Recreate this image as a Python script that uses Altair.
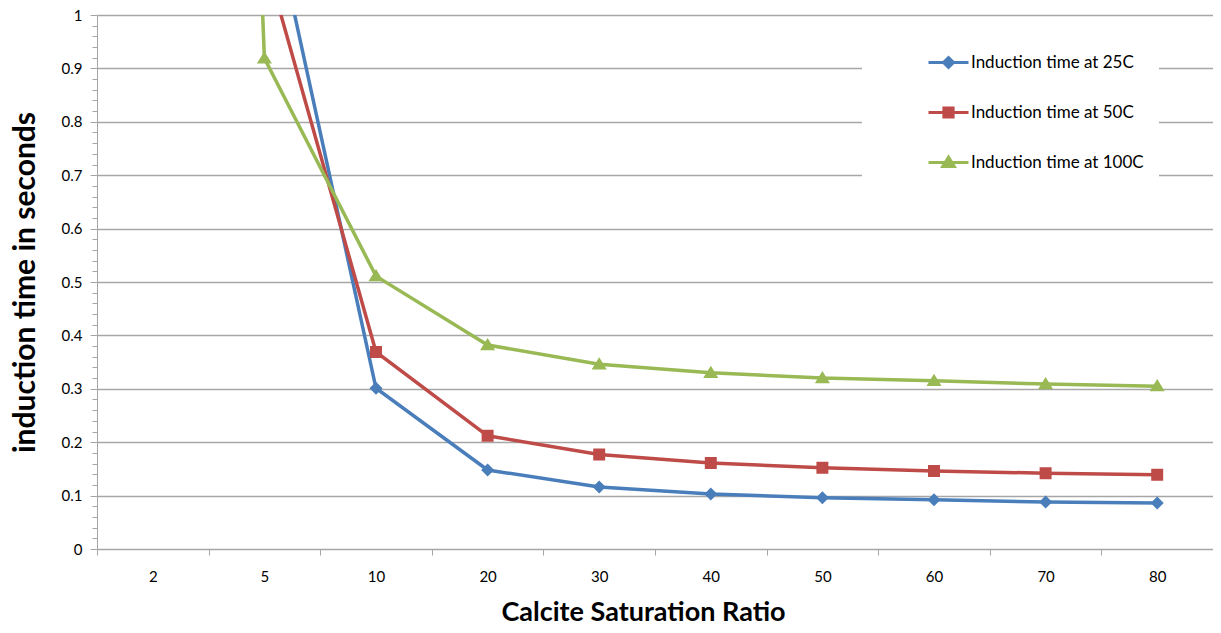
import altair as alt
import pandas as pd

categories = ["2", "5", "10", "20", "30", "40", "50", "60", "70", "80"]
series_names = ["Induction time at 25C", "Induction time at 50C", "Induction time at 100C"]
t25 = [9.0, 1.26, 0.301, 0.148, 0.116, 0.103, 0.096, 0.092, 0.088, 0.086]
t50 = [7.5, 1.11, 0.369, 0.212, 0.177, 0.161, 0.152, 0.146, 0.142, 0.139]
t100 = [6.2, 0.919, 0.511, 0.382, 0.346, 0.330, 0.320, 0.315, 0.309, 0.305]
colors = ["#4A7EBB", "#BE4B48", "#98B954"]
# marker outlines (diamond, square, triangle) joined to a short line stub for the legend key
marker_paths = [
    "M-1,0L1,0M0,-0.25L0.25,0L0,0.25L-0.25,0Z",
    "M-1,0L1,0M-0.23,-0.23L0.23,-0.23L0.23,0.23L-0.23,0.23Z",
    "M-1,0L1,0M0,-0.27L0.29,0.2L-0.29,0.2Z",
]
y_ticks = [round(i * 0.02, 2) for i in range(51)]

rows = []
for name, vals in zip(series_names, [t25, t50, t100]):
    for c, v in zip(categories, vals):
        rows.append({"cat": c, "v": v, "series": name})
df = pd.DataFrame(rows)

FONT = "Lato"
GRAY = "#A6A6A6"
major = "round(datum.value * 50) % 5 === 0"

x_enc = alt.X(
    "cat:O",
    sort=categories,
    bandPosition=0.5,
    scale=alt.Scale(type="band", paddingInner=0, paddingOuter=0),
    axis=alt.Axis(
        title="Calcite Saturation Ratio",
        labelAngle=0,
        tickBand="extent",
        tickSize=6,
        tickColor=GRAY,
        domainColor=GRAY,
        labelFont=FONT,
        labelFontSize=15,
        labelColor="#000000",
        labelPadding=14,
        titleFont=FONT,
        titleFontSize=27,
        titleFontWeight="bold",
        titleColor="#000000",
        titleX=546,
        titleY=71,
        titleBaseline="alphabetic",
        grid=False,
    ),
)
y_enc = alt.Y(
    "v:Q",
    scale=alt.Scale(domain=[0, 1]),
    axis=alt.Axis(
        title="induction time in seconds",
        values=y_ticks,
        tickSize={"condition": {"test": major, "value": 7}, "value": 5},
        tickColor=GRAY,
        domainColor=GRAY,
        grid=True,
        gridColor=GRAY,
        gridWidth=1.3,
        gridOpacity={"condition": {"test": major, "value": 1}, "value": 0},
        labelExpr=f"{major} ? format(datum.value, '.1~f') : ''",
        labelFont=FONT,
        labelFontSize=15,
        labelColor="#000000",
        labelPadding=8,
        titleFont=FONT,
        titleFontSize=30,
        titleFontWeight="bold",
        titleColor="#000000",
        titleX=-63,
        titleBaseline="alphabetic",
    ),
)

lines = alt.Chart(df).mark_line(strokeWidth=3.5, clip=True).encode(
    x=x_enc,
    y=y_enc,
    color=alt.Color(
        "series:N",
        scale=alt.Scale(domain=series_names, range=colors),
        legend=alt.Legend(
            title=None,
            orient="none",
            legendX=765,
            legendY=11,
            fillColor="#FFFFFF",
            padding=15,
            symbolOffset=50,
            symbolSize=1600,
            symbolStrokeWidth=3,
            rowPadding=17,
            labelFont=FONT,
            labelFontSize=17,
            labelColor="#000000",
            labelOffset=1,
            labelLimit=400,
        ),
    ),
)

points = (
    alt.Chart(df)
    .mark_point(filled=True, size=2704, opacity=1, clip=True)
    .encode(
        x=x_enc,
        y=y_enc,
        color=alt.Color("series:N", scale=alt.Scale(domain=series_names, range=colors)),
        shape=alt.Shape(
            "series:N",
            scale=alt.Scale(domain=series_names, range=marker_paths),
            legend=None,
        ),
    )
)

chart = (
    alt.layer(lines, points)
    .properties(
        width=1116,
        height=534,
        autosize=alt.AutoSizeParams(type="none"),
        padding={"left": 89, "top": 7, "right": 0, "bottom": 76},
    )
    .configure_view(stroke=None)
)

chart.save("out.html", embed_options={"renderer": "svg", "actions": False})
